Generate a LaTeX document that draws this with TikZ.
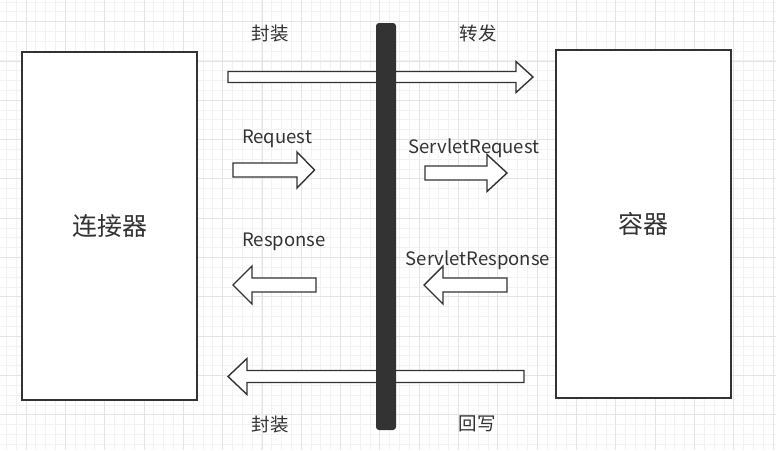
\documentclass[tikz,border=0pt]{standalone}
\usepackage{fontspec}
\setmainfont{Noto Sans CJK SC}
\definecolor{ink}{HTML}{333333}
\definecolor{gridminor}{HTML}{F2F2F2}
\definecolor{gridmajor}{HTML}{E4E4E4}

% block arrow: tail x, tip x, y, shaft half, head half, head length
\newcommand{\blockarrow}[6]{%
  \pgfmathsetmacro\xb{#2-#6*sign(#2-#1)}
  \draw[flow] (#1,#3-#4) -- (\xb,#3-#4) -- (\xb,#3-#5) -- (#2,#3)
    -- (\xb,#3+#5) -- (\xb,#3+#4) -- (#1,#3+#4) -- cycle;}

\tikzset{
  box/.style={draw=ink, line width=1.8pt, fill=white, minimum width=175pt, minimum height=348pt, inner sep=0pt, font=\fontsize{25}{25}\selectfont, text=ink},
  flow/.style={draw=ink, line width=1.4pt, fill=white, line join=miter},
  lbl/.style={text=ink, inner sep=0pt, font=\fontsize{18.5}{18.5}\selectfont}
  ,bus/.style={fill=ink, rounded corners=3pt, minimum width=20pt, minimum height=407pt, inner sep=0pt}
}

\begin{document}
\begin{tikzpicture}[x=1pt, y=-1pt]
  \useasboundingbox (0,0) rectangle (776,450);
  \fill[white] (0,0) rectangle (776,450);

  % grid
  \foreach \i in {0,...,79} {
    \draw[gridminor, line width=0.8pt] (6.3+9.83*\i,0) -- ++(0,450);
  }
  \foreach \i in {0,...,46} {
    \draw[gridminor, line width=0.8pt] (0,1.9+9.83*\i) -- ++(776,0);
  }
  \foreach \i in {0,...,19} {
    \draw[gridmajor, line width=0.8pt] (26+39.32*\i,0) -- ++(0,450);
  }
  \foreach \i in {0,...,11} {
    \draw[gridmajor, line width=0.8pt] (0,21.6+39.32*\i) -- ++(776,0);
  }

  \node[box] (conn) at (109.5,226) {连接器};
  \node[box] (cont) at (643.5,224) {容器};

  % arrows
  \blockarrow{228}{533}{77}{5.5}{15.5}{17}
  \blockarrow{233}{314.5}{170}{7}{18}{17.5}
  \blockarrow{425}{507}{173}{7}{18.5}{20}
  \blockarrow{316}{233}{285}{7}{19}{19}
  \blockarrow{507}{424}{285}{7}{19}{19}
  \blockarrow{524}{228}{376.5}{6}{18}{19}

  \node[bus] (bus) at (386,226.5) {};

  \node[lbl] (wrap1) at (270,33.5) {封装};
  \node[lbl] (fwd) at (478,33.5) {转发};
  \node[lbl] (req) at (277,138.5) {Request};
  \node[lbl] (sreq) at (474,148.5) {ServletRequest};
  \node[lbl] (resp) at (284,241.5) {Response};
  \node[lbl] (sresp) at (478,260.5) {ServletResponse};
  \node[lbl] (wrap2) at (270,424.5) {封装};
  \node[lbl] (back) at (477,423.5) {回写};
\end{tikzpicture}
\end{document}
